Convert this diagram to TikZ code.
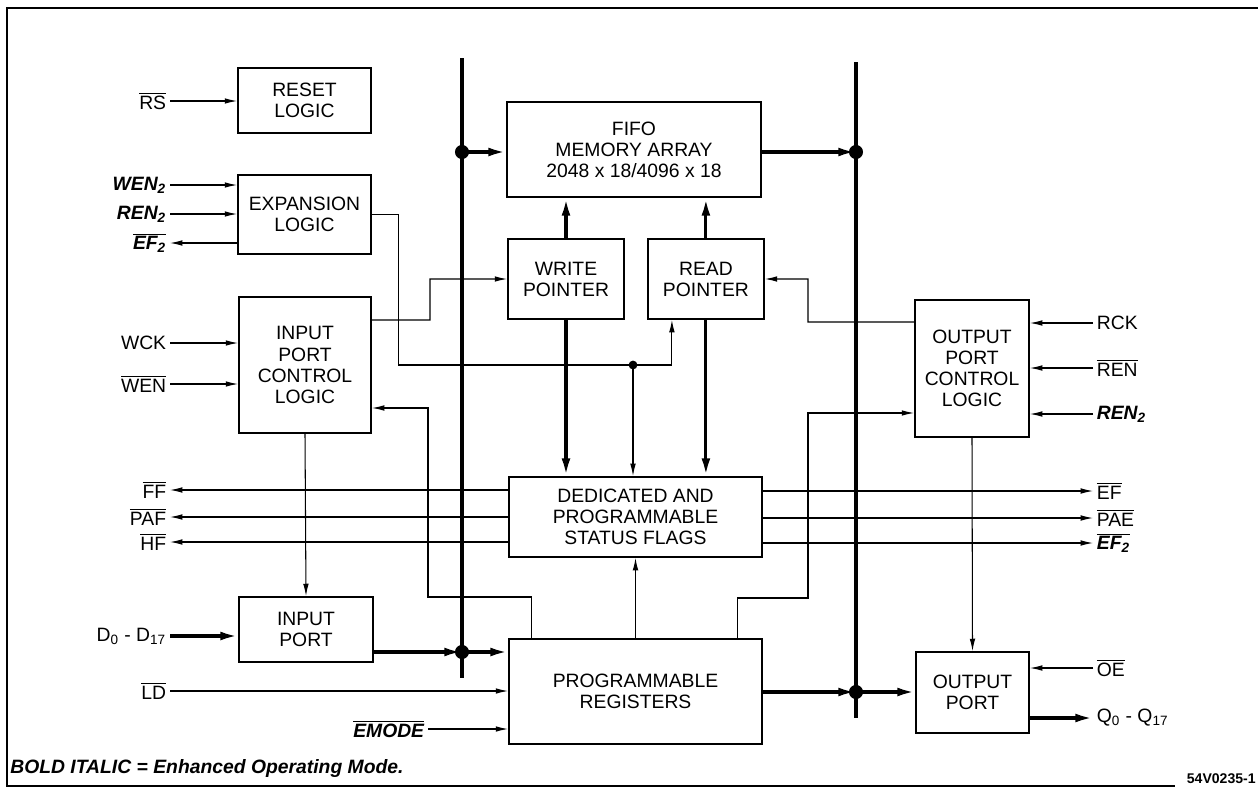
\documentclass[tikz,border=0pt]{standalone}
\usepackage{fontspec}
\setmainfont{Liberation Sans}
\usetikzlibrary{arrows.meta, positioning}
\newcommand\ovl[1]{$\overline{\hbox{#1}}$}
\newcommand\enh[1]{{\bfseries\itshape #1}}

\begin{document}
\begin{tikzpicture}[x=0.02cm, y=-0.02cm, font=\fontsize{11}{12}\selectfont,
    blk/.style={draw, line width=1.1pt, align=center, inner sep=0pt},
    sig/.style={line width=0.6pt, -{Latex[length=7pt,width=3.2pt]}},
    wire/.style={line width=0.6pt},
    bus/.style={line width=2.4pt},
    dbus/.style={line width=1.8pt, -{Latex[length=10pt,width=5pt]}},
    lbl/.style={inner sep=2pt},
    jdot/.style={circle, fill, inner sep=0pt, minimum size=#1},
    jdot/.default=8pt]
    \useasboundingbox (0,0) rectangle (1258,788);
    \draw[line width=0.6pt] (1258,8) -- (7,8) -- (7,786) -- (1175,786);

    % blocks
    \node[blk, minimum width=2.66cm, minimum height=1.30cm] (reset) at (304.5,100.5) {RESET\\LOGIC};
    \node[blk, minimum width=2.66cm, minimum height=1.58cm] (expn) at (304.5,214.5) {EXPANSION\\LOGIC};
    \node[blk, minimum width=2.64cm, minimum height=2.72cm] (inctl) at (305,365) {INPUT\\PORT\\CONTROL\\LOGIC};
    \node[blk, minimum width=2.68cm, minimum height=1.30cm] (inport) at (306,629.5) {INPUT\\PORT};
    \node[blk, minimum width=5.08cm, minimum height=1.90cm] (fifo) at (634,149.5) {FIFO\\MEMORY ARRAY\\2048 x 18/4096 x 18};
    \node[blk, minimum width=2.32cm, minimum height=1.60cm] (wptr) at (566,279) {WRITE\\POINTER};
    \node[blk, minimum width=2.32cm, minimum height=1.60cm] (rptr) [right=0.44cm of wptr] {READ\\POINTER};
    \node[blk, minimum width=5.06cm, minimum height=1.60cm] (flags) at (635.5,517) {DEDICATED AND\\PROGRAMMABLE\\STATUS FLAGS};
    \node[blk, minimum width=5.06cm, minimum height=2.10cm] (preg) at (635.5,691.5) {PROGRAMMABLE\\REGISTERS};
    \node[blk, minimum width=2.28cm, minimum height=2.74cm] (outctl) at (972,368.5) {OUTPUT\\PORT\\CONTROL\\LOGIC};
    \node[blk, minimum width=2.26cm, minimum height=1.62cm] (outport) at (972.5,692.5) {OUTPUT\\PORT};

    % pin labels, left
    \node[lbl, anchor=east] (rs) at (170,101) {\ovl{RS}};
    \node[lbl, anchor=east] (wen2) at (170,185) {\enh{WEN\textsubscript{2}}};
    \node[lbl, anchor=east] (ren2l) at (170,214) {\enh{REN\textsubscript{2}}};
    \node[lbl, anchor=east] (ef2l) at (170,243) {\ovl{\enh{EF\textsubscript{2}}}};
    \node[lbl, anchor=east] (wck) at (170,343) {WCK};
    \node[lbl, anchor=east] (wen) at (170,384) {\ovl{WEN}};
    \node[lbl, anchor=east] (ff) at (170,490) {\ovl{FF}};
    \node[lbl, anchor=east] (paf) at (170,517) {\ovl{PAF}};
    \node[lbl, anchor=east] (hf) at (170,542) {\ovl{HF}};
    \node[lbl, anchor=east] (din) at (170,636) {D\textsubscript{0} - D\textsubscript{17}};
    \node[lbl, anchor=east] (ld) at (170,691) {\ovl{LD}};
    \node[lbl, anchor=east] (emode) at (428,729) {\ovl{\enh{EMODE}}};

    % pin labels, right
    \node[lbl, anchor=west] (rck) at (1093,323) {RCK};
    \node[lbl, anchor=west] (ren) at (1093,368) {\ovl{REN}};
    \node[lbl, anchor=west] (ren2r) at (1093,414) {\enh{REN\textsubscript{2}}};
    \node[lbl, anchor=west] (ef) at (1093,491) {\ovl{EF}};
    \node[lbl, anchor=west] (pae) at (1093,518) {\ovl{PAE}};
    \node[lbl, anchor=west] (ef2r) at (1093,543) {\ovl{\enh{EF\textsubscript{2}}}};
    \node[lbl, anchor=west] (oe) at (1093,668) {\ovl{OE}};
    \node[lbl, anchor=west] (qout) at (1093,718) {Q\textsubscript{0} - Q\textsubscript{17}};

    % buses
    \coordinate (lbt) at (462,58);
    \coordinate (lbb) at (462,678);
    \coordinate (rbt) at (856,62);
    \coordinate (rbb) at (856,718);
    \coordinate (lj1) at (462,152);
    \coordinate (lj2) at (462,652);
    \coordinate (rj1) at (856,152);
    \coordinate (rj2) at (856,692);
    \coordinate (j3) at (633,365);
    \draw[bus] (lbt) -- (lbb);
    \draw[bus] (rbt) -- (rbb);
    \node[jdot] at (lj1) {};
    \node[jdot] at (lj2) {};
    \node[jdot] at (rj1) {};
    \node[jdot] at (rj2) {};
    \node[jdot=5pt] at (j3) {};

    % data paths
    \draw[dbus] (lj1) -- (lj1 -| fifo.west);
    \draw[dbus] (fifo.east |- rj1) -- (rj1);
    \draw[dbus] (wptr.north) -- (wptr.north |- fifo.south);
    \draw[dbus] (rptr.north) -- (rptr.north |- fifo.south);
    \draw[dbus] (wptr.south) -- (wptr.south |- flags.north);
    \draw[dbus] (rptr.south) -- (rptr.south |- flags.north);
    \draw[dbus] (din.east) -- (din.east -| inport.west);
    \draw[dbus] (inport.east |- lj2) -- (lj2);
    \draw[dbus] (lj2) -- (lj2 -| preg.west);
    \draw[dbus] (preg.east |- rj2) -- (rj2);
    \draw[dbus] (rj2) -- (rj2 -| outport.west);
    \draw[dbus] (outport.east |- qout.west) -- (qout.west);

    % control inputs
    \draw[sig] (rs.east) -- (rs.east -| reset.west);
    \draw[sig] (wen2.east) -- (wen2.east -| expn.west);
    \draw[sig] (ren2l.east) -- (ren2l.east -| expn.west);
    \draw[sig] (ef2l.east -| expn.west) -- (ef2l.east);
    \draw[sig] (wck.east) -- (wck.east -| inctl.west);
    \draw[sig] (wen.east) -- (wen.east -| inctl.west);
    \draw[sig] (ld.east) -- (ld.east -| preg.west);
    \draw[sig] (emode.east) -- (emode.east -| preg.west);
    \draw[sig] (rck.west) -- (rck.west -| outctl.east);
    \draw[sig] (ren.west) -- (ren.west -| outctl.east);
    \draw[sig] (ren2r.west) -- (ren2r.west -| outctl.east);
    \draw[sig] (oe.west) -- (oe.west -| outport.east);

    % flags
    \draw[sig] (ff.east -| flags.west) -- (ff.east);
    \draw[sig] (paf.east -| flags.west) -- (paf.east);
    \draw[sig] (hf.east -| flags.west) -- (hf.east);
    \draw[sig] (flags.east |- ef.west) -- (ef.west);
    \draw[sig] (flags.east |- pae.west) -- (pae.west);
    \draw[sig] (flags.east |- ef2r.west) -- (ef2r.west);

    % internal control
    \draw[wire] (expn.east) -- ++(27,0) |- (j3);
    \draw[sig] (j3) -| ([xshift=-0.68cm]rptr.south);
    \draw[sig] (j3) -- (j3 |- flags.north);
    \draw[sig] ([yshift=0.9cm]inctl.east) -- (430,320) |- (wptr.west);
    \draw[sig] ([xshift=0.46cm]preg.north west) |- (428,597) |- ([yshift=-0.86cm]inctl.east);
    \draw[sig] ([yshift=0.93cm]outctl.west) -- (808,322) |- (rptr.east);
    \draw[sig] ([xshift=-0.5cm]preg.north east) |- (808,598) |- ([yshift=-0.89cm]outctl.west);
    \draw[sig] (preg.north) -- (flags.south);
    \draw[sig] (inctl.south) -- (inport.north);
    \draw[sig] (outctl.south) -- (outport.north);

    % notes
    \node[anchor=west, inner sep=0pt] (note) at (10,768) {\enh{BOLD ITALIC = Enhanced Operating Mode.}};
    \node[anchor=east, inner sep=0pt, font=\fontsize{8}{9}\selectfont\bfseries] (figid) at (1256,779) {54V0235-1};
\end{tikzpicture}
\end{document}
